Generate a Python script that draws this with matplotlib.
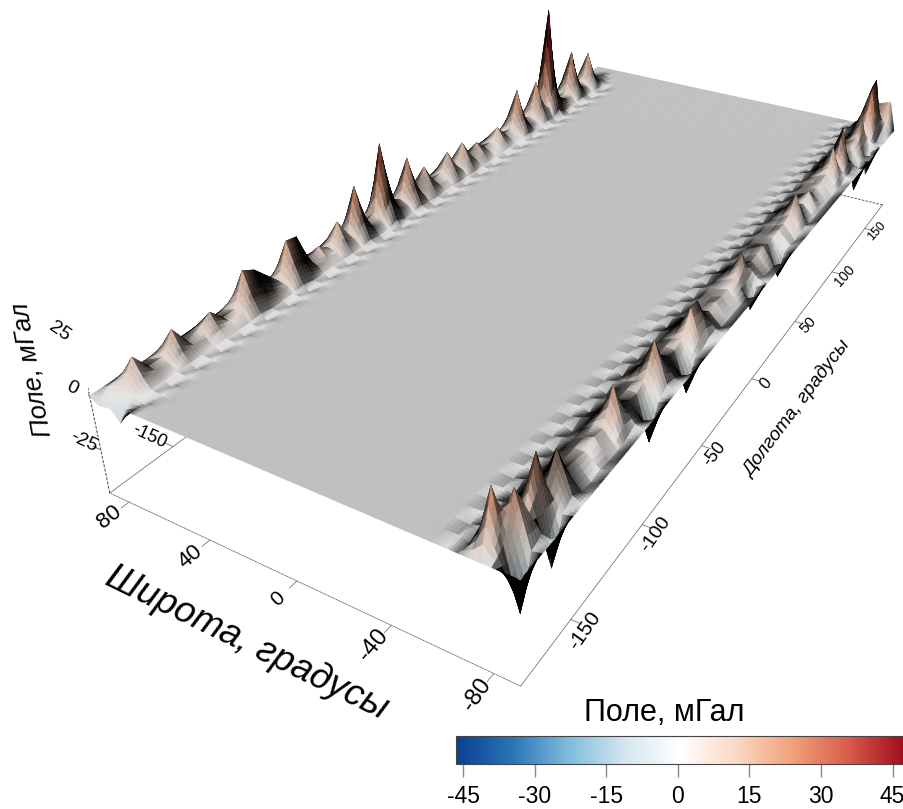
import numpy as np
import matplotlib
matplotlib.use("Agg")
import matplotlib.pyplot as plt
from matplotlib.colors import LinearSegmentedColormap, Normalize
from matplotlib.cm import ScalarMappable
from mpl_toolkits.mplot3d import proj3d

plt.rcParams['font.family'] = ['Liberation Sans', 'DejaVu Sans']
plt.rcParams['axes.unicode_minus'] = False

lon_nodes = list(range(-180, 181, 6))
lat_nodes = [-90, -86, -80, -76, -72, -68, -64, -58, -52, 56, 62, 67, 70, 73, 76, 80, 86, 90]

zero_row = [0] * 61
n84 = [-3,2,4,2,2,5,2,3,4,2,3,7,6,4,2,7,7,2,3,2,5,2,9,2,3,12,3,2,9,2,5,2,2,5,2,5,2,3,2,2,4,2,2,8,2,2,7,2,16,2,2,2,9,2,2,6,2,1,0,0,0]
n78 = [-2,4,13,5,5,14,5,7,11,5,5,20,17,11,5,21,20,5,9,5,15,6,27,6,8,40,9,6,25,6,15,5,6,15,5,15,6,10,5,5,11,5,5,25,6,5,23,6,60,7,5,6,28,6,5,21,5,3,1,0,0]
n72 = [-7,1,5,4,3,5,4,3,4,4,5,8,7,5,4,9,8,4,4,4,6,4,10,5,4,13,6,4,10,4,7,4,4,7,4,7,4,5,3,4,5,3,3,10,4,3,9,7,18,8,5,4,11,5,3,8,3,1,0,0,0]
n66 = [-3,0,1,1,1,1,1,1,1,1,1,2,1,1,1,2,1,1,1,1,1,1,2,1,1,3,1,1,2,1,1,1,1,1,1,1,1,1,1,1,1,1,1,2,1,1,2,1,4,1,1,1,2,1,1,1,1,0,0,0,0]
n60 = [0,-.6,.6,-.6,.6,-.6,.6,-.6,.6,-.6,
       .6,-.6,.6,-.6,.6,-.6,.6,-.6,.6,-.6,
       .6,-.6,.6,-.6,.6,-.6,.6,-.6,.6,-.6,
       .6,-.6,.6,-.6,.6,-.6,.6,-.6,.6,-.6,
       .6,-.6,.6,-.6,.6,-.6,.6,-.6,.6,-.6,
       .6,-.6,.6,-.6,.6,-.6,0,0,0,0,
       0]
n54 = [0,.2,-.2,.2,-.2,.2,-.2,.2,-.2,.2,
       -.2,.2,-.2,.2,-.2,.2,-.2,.2,-.2,.2,
       -.2,.2,-.2,.2,-.2,.2,-.2,.2,-.2,.2,
       -.2,.2,-.2,.2,-.2,.2,-.2,.2,-.2,.2,
       -.2,.2,-.2,.2,-.2,.2,-.2,.2,-.2,.2,
       -.2,.2,-.2,.2,-.2,.2,0,0,0,0,
       0]
s84 = [0,-22,-1,1,-19,-1,2,-1,-2,-1,-2,-2,-1,1,-2,-16,-2,2,1,-2,-14,-2,-1,1,1,-2,-2,-2,-2,-2,-11,1,-1,-2,-2,-11,-2,-1,-2,-1,0,-2,-2,-2,-2,-2,-2,-1,-1,1,0,2,-15,-1,-1,-14,1,0,3,6,16]
s78 = [0,4,22,10,27,9,19,6,5,4,6,5,20,8,5,4,7,20,9,5,4,6,16,16,7,4,5,4,4,6,15,7,5,5,6,4,4,5,5,7,15,6,4,8,4,4,5,6,18,8,24,7,5,6,8,20,7,30,32,12,14]
s72 = [0,26,8,5,10,5,8,4,4,4,4,5,8,5,4,4,4,9,5,4,4,4,7,7,4,3,3,3,3,4,7,4,3,3,4,3,3,3,3,4,7,4,3,4,3,3,3,4,8,5,10,4,4,4,5,8,4,13,14,5,8]
s66 = [0,8,3,3,3,3,3,2,2,2,2,2,3,2,2,2,2,3,2,2,2,2,3,3,2,2,2,2,2,2,3,2,2,2,2,2,2,2,2,2,3,2,2,2,2,2,2,2,3,3,3,3,2,2,2,3,2,2,4,5,3]
s60 = [0,-1,1,-1,1,-1,1,-1,1,-1,
       1,-1,1,-1,1,-1,1,-1,1,-1,
       1,-1,1,-1,1,-1,1,-1,1,-1,
       1,-1,1,-1,1,-1,1,-1,1,-1,
       1,-1,1,-1,1,-1,1,-1,1,-1,
       1,-1,1,-1,1,-1,1,-1,1,-1,
       0]
s54 = [0,.4,-.4,.4,-.4,.4,-.4,.4,-.4,.4,
       -.4,.4,-.4,.4,-.4,.4,-.4,.4,-.4,.4,
       -.4,.4,-.4,.4,-.4,.4,-.4,.4,-.4,.4,
       -.4,.4,-.4,.4,-.4,.4,-.4,.4,-.4,.4,
       -.4,.4,-.4,.4,-.4,.4,-.4,.4,-.4,.4,
       -.4,.4,-.4,.4,-.4,.4,-.4,.4,-.4,.4,
       0]

lat_ticks = [80, 40, 0, -40, -80]
lon_ticks = [-150, -100, -50, 0, 50, 100, 150]
z_ticks = [-25, 0, 25]
cbar_ticks = [-45, -30, -15, 0, 15, 30, 45]

field = np.array([zero_row, s84, s78, s72, s66, s60, s54, zero_row, zero_row,
                  zero_row, zero_row, n54, n60, n66, n72, n78, n84, zero_row], float)
lon = np.array(lon_nodes, float)
lat = np.array(lat_nodes, float)

cmap = LinearSegmentedColormap.from_list("field", ["#0a3f92", "#2a74b6", "#7fbbdb", "#d3e5ef", "#ffffff",
                                                   "#fbd9c6", "#f2a27c", "#d95f4b", "#a40d1d"])
norm = Normalize(-46.5, 47.2)

fig = plt.figure(figsize=(9.04, 8.09), dpi=100)
ax = fig.add_subplot(projection="3d")
ax.set_xlim(-180, 180)
ax.set_ylim(-90, 90)
ax.set_zlim(-46, 46)
ax.set_axis_off()
ax.computed_zorder = False
elev, azim = 28.692, -151.348
ax.view_init(elev, azim, -1.185)
ax.set_proj_type("persp", focal_length=.2414)
ax.set_box_aspect((1, .4677, .2323))
# fitted to the box corners: 5100.54 px per projected unit, origin at 572.42, -236.69
ax.set_position([(572.423 - 5100.542 * .095) / 904, (809 - 236.692 - 5100.542 * .095) / 809,
                 5100.542 * .185 / 904, 5100.542 * .185 / 809])

# shading of the mesh
light = np.array([-.62, -.28, .73])
light = light / np.linalg.norm(light)
gain = 2.8

def lit(zx, zy):
    n = np.stack([-zx, -zy, np.ones_like(zx)], axis=-1)
    n /= np.linalg.norm(n, axis=-1, keepdims=True)
    return np.clip(.75 + gain * (n @ light - light[2]), 0, .9)

zy, zx = np.gradient(field, lat, lon)
shade = lit(zx, zy)

# each facet split for smooth shading, the mesh itself stays the same
k = 4
lon_f = np.concatenate([np.linspace(lon[i], lon[i + 1], k, endpoint=False) for i in range(len(lon) - 1)] + [[lon[-1]]])
lat_f = np.concatenate([np.linspace(lat[i], lat[i + 1], k, endpoint=False) for i in range(len(lat) - 1)] + [[lat[-1]]])

def refine(a):
    a = np.array([np.interp(lon_f, lon, r) for r in a])
    return np.array([np.interp(lat_f, lat, r) for r in a.T]).T

Z = refine(field)
S = refine(shade)
X, Y = np.meshgrid(lon_f, lat_f)

def to_cell(a):
    return (a[:-1, :-1] + a[1:, :-1] + a[:-1, 1:] + a[1:, 1:]) / 4

cell_zx = np.diff(Z[:-1, :], axis=1) / np.diff(X[:-1, :], axis=1)
cell_zy = np.diff(Z[:, :-1], axis=0) / np.diff(Y[:, :-1], axis=0)
cell_shade = .5 * to_cell(S) + .5 * lit(cell_zx, cell_zy)
cell = to_cell(cmap(norm(Z))[..., :3]) * cell_shade[..., None]
# undersides are black
el, az = np.radians(elev), np.radians(azim)
view = np.array([np.cos(el) * np.cos(az), np.cos(el) * np.sin(az), np.sin(el)])
back = (-cell_zx * view[0] - cell_zy * view[1] + view[2]) < 0
cell[back] = 0
ax.plot_surface(X, Y, Z, facecolors=cell, rstride=1, cstride=1, shade=False, linewidth=.3, antialiased=True, zorder=3)

def label3d(x, y, z, text, rot, size):
    xd, yd, _ = proj3d.proj_transform(x, y, z, ax.get_proj())
    ax.text2D(xd, yd, text, transform=ax.transData, rotation=rot, rotation_mode="anchor",
              ha="center", va="center", fontsize=size, color="black")

# box lines
line_kw = dict(lw=.6, zorder=1)
ax.plot([-180, -180], [-90, 90], [-46, -46], color="#555555", ls=(0, (1.5, .6)), **line_kw)
ax.plot([-180, 180], [-90, -90], [-46, -46], color="#777777", **line_kw)
ax.plot([-180, 180], [90, 90], [-46, -46], color="#777777", **line_kw)
ax.plot([180, 180], [-90, 90], [-46, -46], color="#444444", ls=(0, (3, 1.5)), **line_kw)
ax.plot([-180, -180], [90, 90], [-46, 46], color="#444444", ls=(0, (3, 1.5)), lw=.7, zorder=1)

for v, r, fs in zip(lat_ticks, [38, 40, 42, 50, 55], [16, 16, 15, 17, 17]):
    ax.plot([-180, -183.5], [v, v], [-46, -46], color="#777777", **line_kw)
    label3d(-189, v, -46, str(v), r, fs)
for v, r, fs in zip(lon_ticks, [55, 55, 52, 50, 48, 48, 48], [15, 14, 13, 12, 11, 10, 9]):
    ax.plot([v, v], [-90, -94], [-46, -46], color="#777777", **line_kw)
    label3d(v - 2 if v < 0 else v, -96.5, -46, str(v), r, fs)
ax.plot([-150, -150], [90, 94], [-46, -46], color="#777777", **line_kw)
label3d(-150, 103, -46, "-150", -25, 13)
for v, r in zip(z_ticks, [-25, -25, -35]):
    ax.plot([-180, -180], [90, 94], [v, v], color="#555555", **line_kw)
    label3d(-180, 99, v, str(v), r, 14)

fig.text(247 / 904, 1 - 643 / 809, "Широта, градусы", rotation=-26, style="italic", fontsize=26.5,
         ha="center", va="center", rotation_mode="anchor")
fig.text(797 / 904, 1 - 408 / 809, "Долгота, градусы", rotation=53, style="italic", fontsize=13.8,
         ha="center", va="center", rotation_mode="anchor")
fig.text(32 / 904, 1 - 370 / 809, "Поле, мГал", rotation=100, style="italic", fontsize=18.7,
         ha="center", va="center", rotation_mode="anchor")

cax = fig.add_axes([456 / 904, 1 - 764 / 809, 447 / 904, 28 / 809])
cb = fig.colorbar(ScalarMappable(norm, cmap), cax=cax, orientation="horizontal", ticks=cbar_ticks)
cb.outline.set_linewidth(.8)
cb.outline.set_edgecolor("#444444")
cb.ax.tick_params(length=9.4, width=1, color="#888888", labelsize=16.5, pad=5.5)
fig.text(664 / 904, 1 - 713 / 809, "Поле, мГал", fontsize=22, ha="center", va="center")

fig.savefig("out.png", dpi=100)
